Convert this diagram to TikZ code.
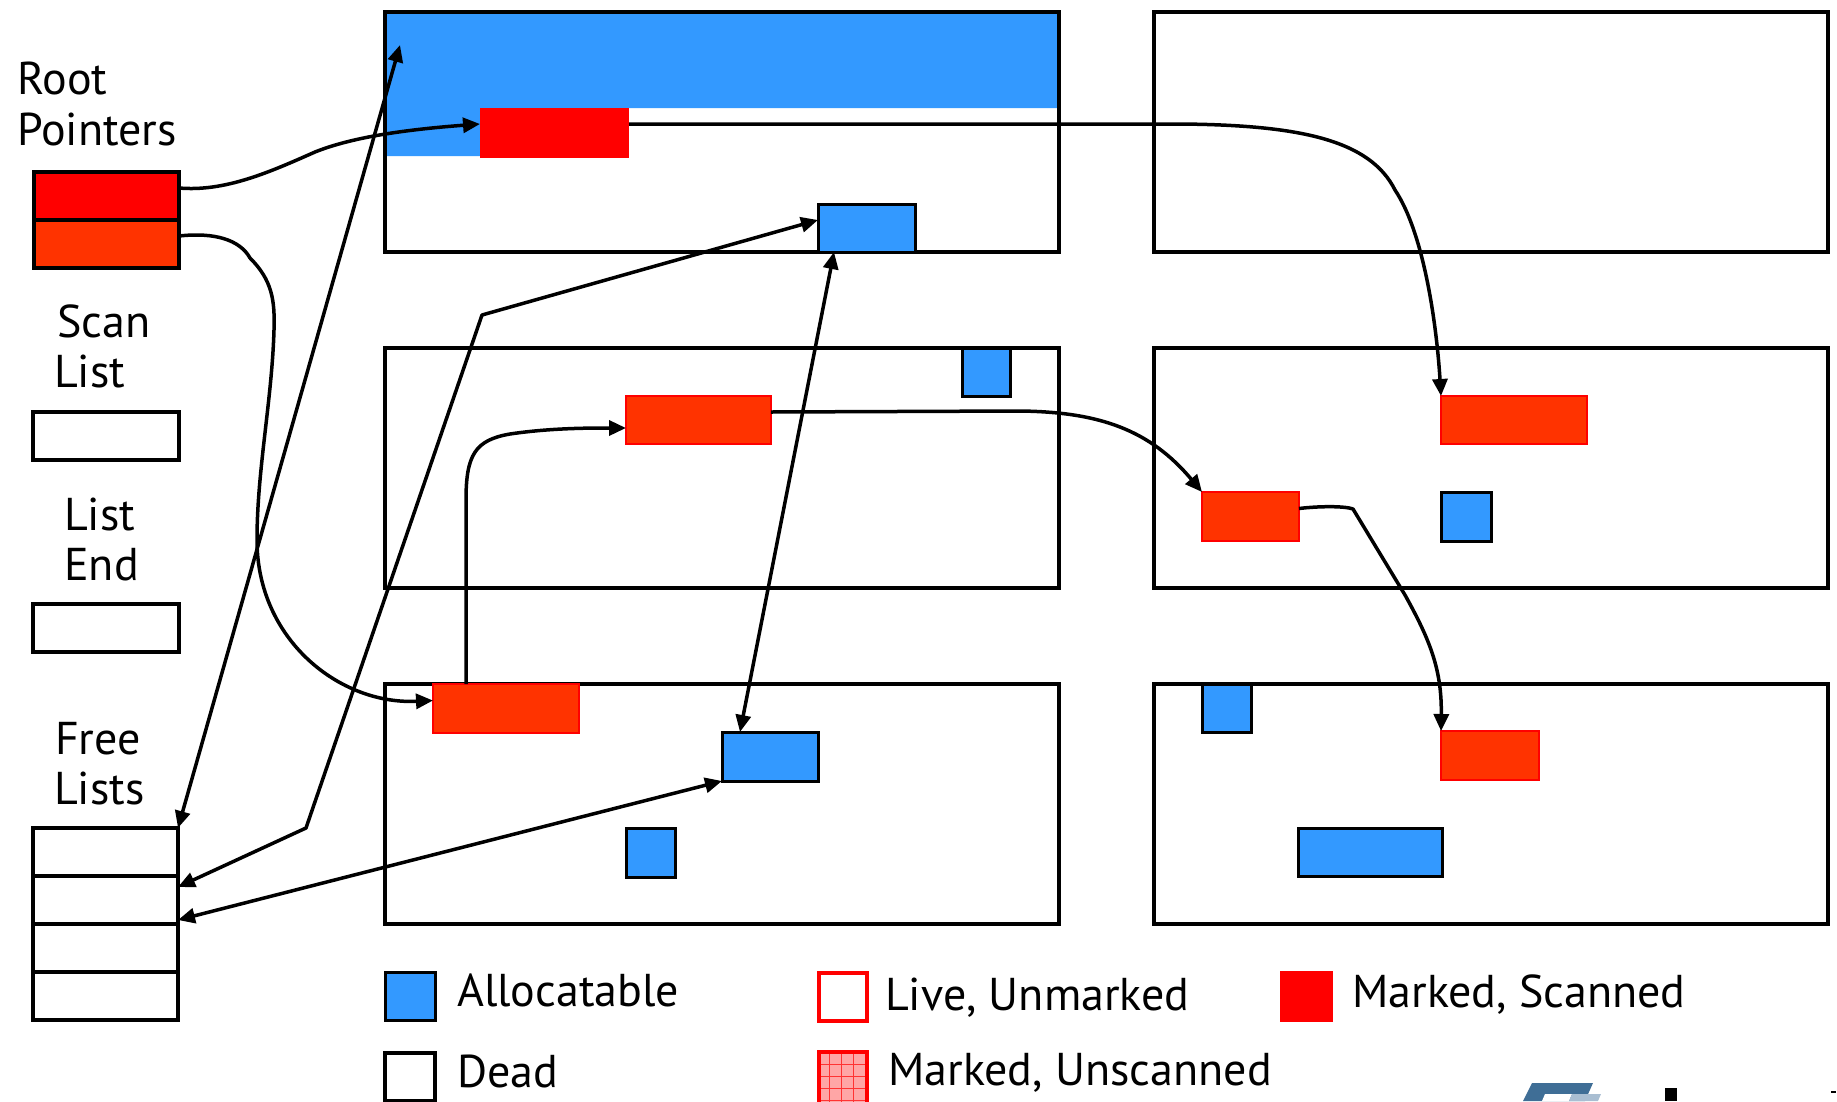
\documentclass[tikz,border=0pt]{standalone}
\usepackage{fontspec}
\setmainfont{PT Sans}
\usetikzlibrary{arrows.meta}

\definecolor{allocblue}{HTML}{3399FF}
\definecolor{markred}{HTML}{FF0000}
\definecolor{unscan}{HTML}{FF3300}
\definecolor{logoblue}{HTML}{3F6E96}
\definecolor{logolight}{HTML}{A9BED2}

\tikzset{
  box/.style={inner sep=0pt, outer sep=0pt, anchor=north west},
  heap/.style={box, draw=black, line width=4.5pt},
  slot/.style={box, draw=black, line width=4pt, fill=white},
  alloc/.style={box, draw=black, fill=allocblue, line width=3pt},
  scanned/.style={box, fill=markred},
  unscanned/.style={box, fill=unscan, draw=markred, line width=2.5pt},
  conn/.style={draw=black, line width=3.5pt, line join=round},
  tip/.style={-{Triangle[length=17pt,width=15pt]}},
  tips/.style={{Triangle[length=17pt,width=15pt]}-{Triangle[length=17pt,width=15pt]}},
  lbl/.style={inner sep=0pt, anchor=base west, font=\fontsize{46pt}{52pt}\selectfont}
}

\begin{document}
\begin{tikzpicture}[x=1pt, y=-1pt]
\useasboundingbox (0,0) rectangle (1837,1101);

% ---------- left column: labels and list cells ----------
\node[lbl] (tRoot) at (17,94) {Root};
\node[lbl] (tPointers) at (17,145) {Pointers};
\node[box, fill=markred, draw=black, line width=4pt, minimum width=145pt, minimum height=48pt] (rp1) at (34,172) {};
\node[box, fill=unscan, draw=black, line width=4pt, minimum width=145pt, minimum height=48pt] (rp2) at (34,220) {};

\node[lbl] (tScan) at (57,337) {Scan};
\node[lbl] (tScanList) at (54,387) {List};
\node[slot, minimum width=146pt, minimum height=48pt] (sl) at (33,412) {};

\node[lbl] (tList) at (64,530) {List};
\node[lbl] (tEnd) at (64,580) {End};
\node[slot, minimum width=146pt, minimum height=48pt] (le) at (33,604) {};

\node[lbl] (tFree) at (55,754) {Free};
\node[lbl] (tLists) at (54,804) {Lists};
\node[slot, minimum width=145pt, minimum height=48pt] (fl1) at (33,828) {};
\node[slot, minimum width=145pt, minimum height=48pt] (fl2) at (33,876) {};
\node[slot, minimum width=145pt, minimum height=48pt] (fl3) at (33,924) {};
\node[slot, minimum width=145pt, minimum height=48pt] (fl4) at (33,972) {};

% ---------- heap blocks ----------
% free run at the top of the first block
\fill[allocblue] (385,12) -- (1059,12) -- (1059,108) -- (480,108) -- (480,156) -- (385,156) -- cycle;
\coordinate (topFree) at (400,45);

\node[heap, minimum width=674pt, minimum height=240pt] (b11) at (385,12) {};
\node[heap, minimum width=674pt, minimum height=240pt] (b12) at (1154,12) {};
\node[heap, minimum width=674pt, minimum height=240pt] (b21) at (385,348) {};
\node[heap, minimum width=674pt, minimum height=240pt] (b22) at (1154,348) {};
\node[heap, minimum width=674pt, minimum height=240pt] (b31) at (385,684) {};
\node[heap, minimum width=674pt, minimum height=240pt] (b32) at (1154,684) {};

% objects
\node[scanned, minimum width=149pt, minimum height=50pt] (redA) at (480,108) {};
\node[alloc, minimum width=97pt, minimum height=48pt] (blueA) at (818,204) {};
\node[alloc, minimum width=48pt, minimum height=48pt] (blueB) at (962,348) {};
\node[unscanned, minimum width=145pt, minimum height=48pt] (orgC) at (626,396) {};
\node[unscanned, minimum width=146pt, minimum height=48pt] (orgD) at (1441,396) {};
\node[unscanned, minimum width=97pt, minimum height=49pt] (orgE) at (1202,492) {};
\node[alloc, minimum width=50pt, minimum height=49pt] (blueF) at (1441,492) {};
\node[unscanned, minimum width=146pt, minimum height=49pt] (orgG) at (433,684) {};
\node[alloc, minimum width=96pt, minimum height=49pt] (blueH) at (722,732) {};
\node[alloc, minimum width=49pt, minimum height=49pt] (blueI) at (626,828) {};
\node[alloc, minimum width=49pt, minimum height=48pt] (blueJ) at (1202,684) {};
\node[unscanned, minimum width=98pt, minimum height=49pt] (orgK) at (1441,731) {};
\node[alloc, minimum width=144pt, minimum height=48pt] (blueL) at (1298,828) {};

% ---------- pointers ----------
\draw[conn, tip] ([yshift=-16pt]rp1.north east)
  .. controls (225,192) and (270,172) .. (315,152)
  .. controls (350,138) and (400,130) .. ([yshift=9pt]redA.west);

\draw[conn, tip] ([yshift=-16pt]rp2.north east)
  .. controls (215,232) and (240,240) .. (250,258)
  .. controls (272,280) and (275,300) .. (274,330)
  .. controls (272,400) and (257,470) .. (257,540)
  .. controls (257,640) and (340,705) .. ([yshift=8pt]orgG.west);

\draw[conn, tips] (fl1.north east) -- (topFree);

\draw[conn, tips] ([yshift=-11pt]fl2.north east) -- (306,828) -- (482,315) -- ([yshift=8pt]blueA.west);

\draw[conn, tips] ([yshift=4pt]fl3.north east) -- (blueH.south west);

\draw[conn, tips] ([xshift=16pt]blueA.south west) -- ([xshift=18pt]blueH.north west);

\draw[conn, tip] ([xshift=33pt]orgG.north west) -- (466,500)
  .. controls (466,455) and (475,440) .. (510,434)
  .. controls (550,428) and (590,428) .. ([yshift=-8pt]orgC.west);

\draw[conn, tip] ([yshift=9pt]redA.east) -- (1180,124)
  .. controls (1300,125) and (1370,140) .. (1395,190)
  .. controls (1425,235) and (1437,330) .. (orgD.north west);

\draw[conn, tip] ([yshift=8pt]orgC.east) -- (1020,411)
  .. controls (1100,412) and (1150,430) .. (orgE.north west);

\draw[conn, tip] ([yshift=8pt]orgE.east)
  .. controls (1320,506) and (1345,506) .. (1353,509)
  -- (1405,595)
  .. controls (1430,640) and (1442,670) .. (orgK.north west);

% ---------- key ----------
\node[alloc, minimum width=50pt, minimum height=48pt] (lgA) at (385,972) {};
\node[lbl] (tAlloc) at (457,1006) {Allocatable};
\node[box, draw=black, fill=white, line width=4pt, minimum width=50pt, minimum height=48pt] (lgD) at (385,1053) {};
\node[lbl] (tDead) at (457,1087) {Dead};

\node[box, draw=markred, fill=white, line width=4pt, minimum width=48pt, minimum height=48pt] (lgL) at (819,973) {};
\node[lbl] (tLive) at (885,1010) {Live, Unmarked};

\node[box, fill=markred, minimum width=53pt, minimum height=51pt] (lgM) at (1280,971) {};
\node[lbl] (tMS) at (1352,1007) {Marked, Scanned};

\node[box, fill=markred!35, minimum width=48pt, minimum height=50pt] (lgU) at (819,1052) {};
\begin{scope}
  \clip (819,1052) rectangle (867,1102);
  \foreach \gx in {829,841,853} \draw[markred!80, line width=1pt] (\gx,1052) -- (\gx,1102);
  \foreach \gy in {1064,1076,1088,1100} \draw[markred!80, line width=1pt] (819,\gy) -- (867,\gy);
\end{scope}
\draw[markred, line width=4pt] (819,1103) -- (lgU.north west) -- (lgU.north east) -- (867,1103);
\node[lbl] (tMU) at (888,1085) {Marked, Unscanned};

% ---------- corner emblem ----------
\fill[logoblue] (1532,1083) -- (1593,1083) -- (1585,1101) -- (1523,1101) -- cycle;
\fill[white] (1545,1094) -- (1572,1094) -- (1569,1101) -- (1542,1101) -- cycle;
\fill[logolight] (1572,1094) -- (1601,1094) -- (1598,1101) -- (1569,1101) -- cycle;
\fill[black] (1665,1088) rectangle (1677,1101);
\fill[black] (1831,1091) rectangle (1836,1093);
\end{tikzpicture}
\end{document}
